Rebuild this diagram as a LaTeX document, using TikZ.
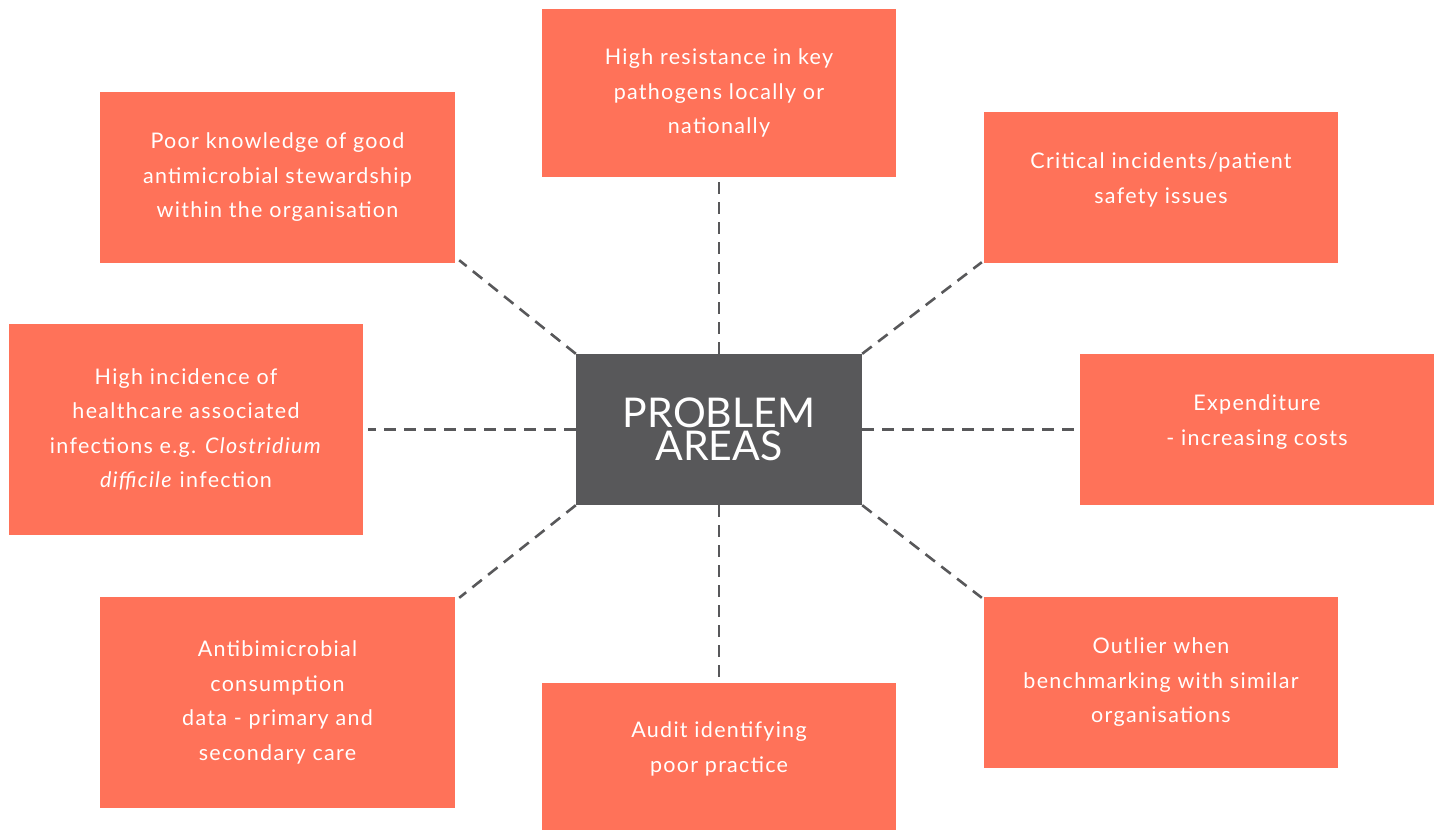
\documentclass[tikz,border=0pt]{standalone}
\usepackage{fontspec}
\setmainfont{Lato}
\newfontfamily\issuefont[LetterSpace=6]{Lato}
\definecolor{salmon}{HTML}{FF7259}
\definecolor{slate}{HTML}{58585A}
\tikzset{
  issue/.style={fill=salmon,text=white,align=center,inner sep=0pt,minimum width=354,
    font=\issuefont\fontsize{21.5}{34.5}\selectfont},
  hub/.style={fill=slate,text=white,align=center,inner sep=0pt,minimum width=286,minimum height=151,
    font=\fontsize{41}{33}\selectfont},
  link/.style={draw=slate,line width=2.6pt,dash pattern=on 12pt off 8pt}
}
\begin{document}
\begin{tikzpicture}[x=1pt,y=-1pt]
\useasboundingbox (0,0) rectangle (1442,831);
\node[hub] (pa) at (719,429.5) {PROBLEM\\AREAS};
\node[issue,minimum height=168] (top) at (719,93) {High resistance in key\\pathogens locally or\\nationally};
\node[issue,minimum height=171,minimum width=355] (tl) at (277.5,177.5) {Poor knowledge of good\\antimicrobial stewardship\\within the organisation};
\node[issue,minimum height=151] (tr) at (1161,187.5) {Critical incidents/patient\\safety issues\\[-16pt]};
\node[issue,minimum height=211] (lft) at (186,429.5) {High incidence of\\healthcare associated\\infections e.g. \textit{Clostridium}\\\textit{difficile} infection};
\node[issue,minimum height=151] (rgt) at (1257,429.5) {Expenditure\\- increasing costs\\[-16pt]};
\node[issue,minimum height=211,minimum width=355] (bl) at (277.5,702.5) {Antibimicrobial\\consumption\\data - primary and\\secondary care};
\node[issue,minimum height=147] (bot) at (719,756.5) {Audit identifying\\poor practice\\[-16pt]};
\node[issue,minimum height=171] (br) at (1161,682.5) {Outlier when\\benchmarking with similar\\organisations};
\draw[link] (pa.north) -- ([yshift=-2pt]top.south);
\draw[link] (pa.south) -- ([yshift=2pt]bot.north);
\draw[link] (pa.west) -- ([xshift=5pt]lft.east);
\draw[link] (pa.east) -- ([xshift=-2pt]rgt.west);
\draw[link] (pa.north west) -- ([shift={(4pt,3pt)}]tl.south east);
\draw[link] (pa.north east) -- ([shift={(-2pt,1pt)}]tr.south west);
\draw[link] (pa.south west) -- ([shift={(4pt,-1pt)}]bl.north east);
\draw[link] (pa.south east) -- ([shift={(-2pt,-1pt)}]br.north west);
\end{tikzpicture}
\end{document}
